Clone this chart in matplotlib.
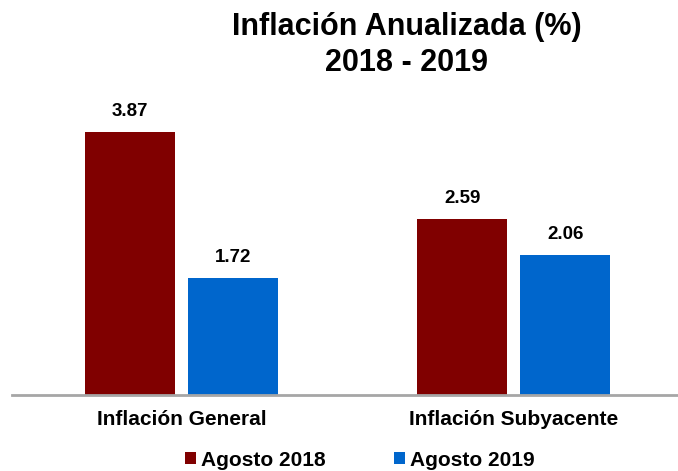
import matplotlib.pyplot as plt
import numpy as np

plt.rcParams['font.family'] = ['Liberation Sans', 'DejaVu Sans']
plt.rcParams['font.weight'] = 'bold'

categories = ["Inflación General", "Inflación Subyacente"]
series_names = ["Agosto 2018", "Agosto 2019"]
ago_2018 = [3.87, 2.59]
ago_2019 = [1.72, 2.06]
colors = ["#800000", "#0066CC"]

fig = plt.figure(figsize=(6.78, 4.71), dpi=100)
ax = fig.add_axes([12 / 678, 1 - 395 / 471, 666 / 678, 295 / 471])

x = np.arange(len(categories))
w = 0.271
off = 0.155
b1 = ax.bar(x - off, ago_2018, w, color=colors[0], label=series_names[0])
b2 = ax.bar(x + off, ago_2019, w, color=colors[1], label=series_names[1])

for bars, vals in [(b1, ago_2018), (b2, ago_2019)]:
    for bar, v in zip(bars, vals):
        ax.text(bar.get_x() + bar.get_width() / 2, v + 0.3, f"{v:.2f}",
                ha="center", va="center", fontsize=13.5, fontweight="bold")

ax.set_xlim(-0.511, 1.495)
ax.set_ylim(0, 295 / 68)
ax.set_xticks(x)
ax.set_xticklabels(categories, fontsize=15, fontweight="bold")
ax.tick_params(axis="x", length=0, pad=11)
ax.set_yticks([])
for s in ["top", "right", "left"]:
    ax.spines[s].set_visible(False)
ax.spines["bottom"].set_color("#a6a6a6")
ax.spines["bottom"].set_linewidth(2)

fig.text(0.6, 1 - 45 / 471, "Inflación Anualizada (%)\n2018 - 2019", ha="center", va="center",
         fontsize=22, fontweight="bold", linespacing=1.27)

fig.legend(loc="center", bbox_to_anchor=(360 / 678, 1 - 460 / 471), ncol=2, frameon=False,
           handlelength=0.5, handleheight=0.5, handletextpad=0.25,
           columnspacing=3.3, prop={"weight": "bold", "size": 15})

fig.savefig("out.png", dpi=100)
